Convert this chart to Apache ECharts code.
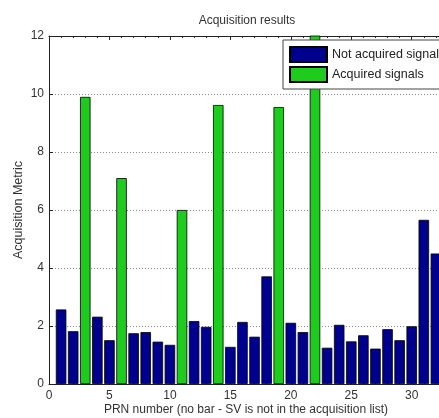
<!DOCTYPE html>
<html>
<head>
<meta charset="utf-8">
<script src="https://cdn.jsdelivr.net/npm/echarts@6/dist/echarts.min.js"></script>
<style>
html,body{margin:0;padding:0;background:#fff;overflow:hidden;width:439px;height:418px;}
#chart{width:470px;height:418px;}
</style>
</head>
<body>
<div id="chart"></div>
<script>
// PRN numbers and acquisition metric values
const prnNotAcquired = [1,2,4,5,7,8,9,10,12,13,15,16,17,18,20,21,23,24,25,26,27,28,29,30,31,32];
const metricNotAcquired = [2.57,1.82,2.32,1.51,1.75,1.79,1.46,1.35,2.17,1.97,1.28,2.14,1.63,3.71,2.11,1.79,1.25,2.04,1.47,1.68,1.22,1.89,1.51,1.99,5.66,4.5];
const prnAcquired = [3,6,11,14,19,22];
const metricAcquired = [9.9,7.1,6.0,9.62,9.55,12.6];
const xTicks = [0,5,10,15,20,25,30];
const yTicks = [0,2,4,6,8,10,12];

const chart = echarts.init(document.getElementById('chart'), null, {renderer:'canvas'});
const font = 'Liberation Sans, Arial, sans-serif';
const txt = '#333';

const pairs = (xs, ys) => xs.map((x, i) => [x, ys[i]]);

chart.setOption({
  animation: false,
  backgroundColor: '#fff',
  grid: {left: 49, top: 36, right: 22, bottom: 34, containLabel: false, outerBoundsMode: 'none'},
  graphic: [
    {type:'text', x: 247, y: 21, style:{text:'Acquisition results', font:'12px ' + font, fill: txt, textAlign:'center', textVerticalAlign:'middle'}},
    {type:'text', x: 246, y: 404, style:{text:'PRN number (no bar - SV is not in the acquisition list)', font:'12px ' + font, fill: txt, textAlign:'center', textVerticalAlign:'top'}},
    {type:'text', x: 12, y: 210, rotation: Math.PI/2, style:{text:'Acquisition Metric', font:'12.5px ' + font, fill: txt, textAlign:'center', textVerticalAlign:'top'}}
  ],
  legend: {
    orient: 'vertical',
    left: 283, top: 40,
    padding: [6, 6, 6, 6],
    itemWidth: 37, itemHeight: 15, itemGap: 3,
    backgroundColor: '#fff',
    borderColor: '#444', borderWidth: 1,
    textStyle: {fontFamily: font, fontSize: 12.5, color: '#222'},
    icon: 'rect',
    data: ['Not acquired signals', 'Acquired signals']
  },
  xAxis: [
    {
      type: 'value', min: 0, max: 33, interval: 5, position: 'bottom',
      axisLine: {show: true, lineStyle: {color: '#222', width: 1}},
      axisTick: {show: true, inside: true, length: 4, lineStyle:{color:'#222'}},
      minorTick: {show: true, splitNumber: 5, length: 2, lineStyle:{color:'#222'}},
      axisLabel: {fontFamily: font, fontSize: 12, color: txt, margin: 6, showMaxLabel: false,
        formatter: v => xTicks.includes(v) ? String(v) : ''},
      splitLine: {show: false}
    },
    {
      type: 'value', min: 0, max: 33, interval: 5, position: 'top',
      axisLine: {show: true, lineStyle: {color: '#222', width: 1}},
      axisTick: {show: true, inside: true, length: 4, lineStyle:{color:'#222'}},
      minorTick: {show: true, splitNumber: 5, length: 2, lineStyle:{color:'#222'}},
      axisLabel: {show: false},
      splitLine: {show: false}
    }
  ],
  yAxis: {
    type: 'value', min: 0, max: 12, interval: 2,
    axisLine: {show: true, lineStyle: {color: '#222', width: 1}},
    axisTick: {show: true, inside: true, length: 4, lineStyle:{color:'#222'}},
    axisLabel: {fontFamily: font, fontSize: 12, color: txt, margin: 5,
      formatter: v => yTicks.includes(v) ? String(v) : ''},
    splitLine: {show: true, lineStyle: {color: '#888', type: [1, 2], width: 1}}
  },
  series: [
    {
      name: 'Not acquired signals', type: 'bar', xAxisIndex: 0,
      barWidth: 10.5, barGap: '-100%',
      itemStyle: {color: '#00008F', borderColor: '#000', borderWidth: 0.8},
      data: pairs(prnNotAcquired, metricNotAcquired)
    },
    {
      name: 'Acquired signals', type: 'bar', xAxisIndex: 0,
      barWidth: 10.5, barGap: '-100%',
      itemStyle: {color: '#1ECC1E', borderColor: '#000', borderWidth: 0.8},
      data: pairs(prnAcquired, metricAcquired)
    }
  ]
});
</script>
</body>
</html>
